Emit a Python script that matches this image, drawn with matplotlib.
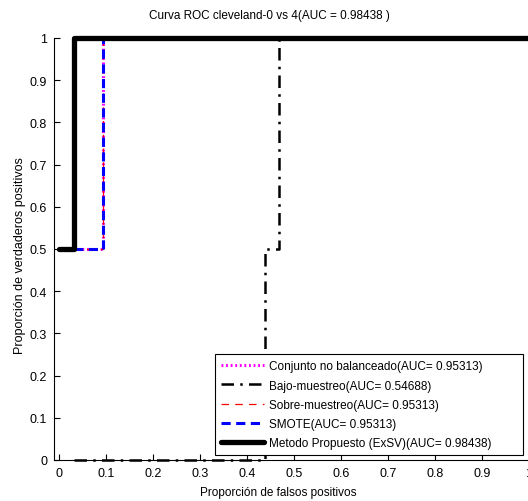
import matplotlib
matplotlib.use("Agg")
import matplotlib.pyplot as plt

# ROC curve points (false positive rate, true positive rate) per method
fpr_conjunto = [0.0, 0.09375, 0.09375, 1.0]
tpr_conjunto = [0.5, 0.5, 1.0, 1.0]

fpr_bajo = [0.03125, 0.4375, 0.4375, 0.46875, 0.46875, 1.0]
tpr_bajo = [0.0, 0.0, 0.5, 0.5, 1.0, 1.0]

fpr_sobre = [0.0, 0.09375, 0.09375, 1.0]
tpr_sobre = [0.5, 0.5, 1.0, 1.0]

fpr_smote = [0.0, 0.09375, 0.09375, 1.0]
tpr_smote = [0.5, 0.5, 1.0, 1.0]

fpr_exsv = [0.0, 0.03125, 0.03125, 1.0]
tpr_exsv = [0.5, 0.5, 1.0, 1.0]

labels = [
    "Conjunto no balanceado(AUC= 0.95313)",
    "Bajo-muestreo(AUC= 0.54688)",
    "Sobre-muestreo(AUC= 0.95313)",
    "SMOTE(AUC= 0.95313)",
    "Metodo Propuesto (ExSV)(AUC= 0.98438)",
]
title = "Curva ROC cleveland-0 vs 4(AUC = 0.98438 )"
xticks = [0, 0.1, 0.2, 0.3, 0.4, 0.5, 0.6, 0.7, 0.8, 0.9, 1]
yticks = [0, 0.1, 0.2, 0.3, 0.4, 0.5, 0.6, 0.7, 0.8, 0.9, 1]

plt.rcParams["font.family"] = ["Liberation Sans", "DejaVu Sans"]

W, H = 528, 502
fig = plt.figure(figsize=(W / 100, H / 100), dpi=100)
ax = fig.add_axes([54 / W, 1 - 461 / H, 475 / W, 422 / H])

ax.plot(fpr_conjunto, tpr_conjunto, color="#ff00ff", linestyle=(0, (0.6, 0.9)),
        linewidth=2.2, label=labels[0], clip_on=False)
ax.plot(fpr_bajo, tpr_bajo, color="black", linestyle=(0, (5, 2.5, 1, 2.5)),
        linewidth=1.8, label=labels[1], clip_on=False)
ax.plot(fpr_sobre, tpr_sobre, color="red", linestyle=(0, (6, 5)),
        linewidth=0.9, label=labels[2], clip_on=False)
ax.plot(fpr_smote, tpr_smote, color="blue", linestyle=(0, (3, 1.8)),
        linewidth=2.2, label=labels[3], clip_on=False)
ax.plot(fpr_exsv, tpr_exsv, color="black", linestyle="-",
        linewidth=3.8, label=labels[4], clip_on=False, solid_capstyle="round")

ax.set_xlim(-0.0106, 1.0)
ax.set_ylim(0, 1.0)
ax.set_xticks(xticks)
ax.set_yticks(yticks)
ax.set_xticklabels([f"{t:g}" for t in xticks])
ax.set_yticklabels([f"{t:g}" for t in yticks])
ax.spines["top"].set_visible(False)
ax.spines["right"].set_visible(False)
ax.tick_params(direction="in", length=4, width=0.8, labelsize=9, pad=5)
for s in ("left", "bottom"):
    ax.spines[s].set_linewidth(0.8)

fig.text(269 / W, 1 - 16 / H, title, ha="center", va="center", fontsize=8.5)
fig.text(278 / W, 1 - 493 / H, "Proporción de falsos positivos",
         ha="center", va="center", fontsize=8.5)
fig.text(20 / W, 1 - 256 / H, "Proporción de verdaderos positivos",
         ha="center", va="center", rotation=90, fontsize=9)

handles, _ = ax.get_legend_handles_labels()
leg = fig.legend(handles, labels, loc="upper left",
                 bbox_to_anchor=(215 / W, 1 - 454 / H, 308 / W, 99 / H),
                 mode="expand", fontsize=8.5, frameon=True, fancybox=False,
                 edgecolor="black", facecolor="white", framealpha=1,
                 borderpad=0.55, handlelength=3.6, handletextpad=0.4,
                 labelspacing=0.6, borderaxespad=0)
leg.get_frame().set_linewidth(0.8)

fig.savefig("out.png", dpi=100)
